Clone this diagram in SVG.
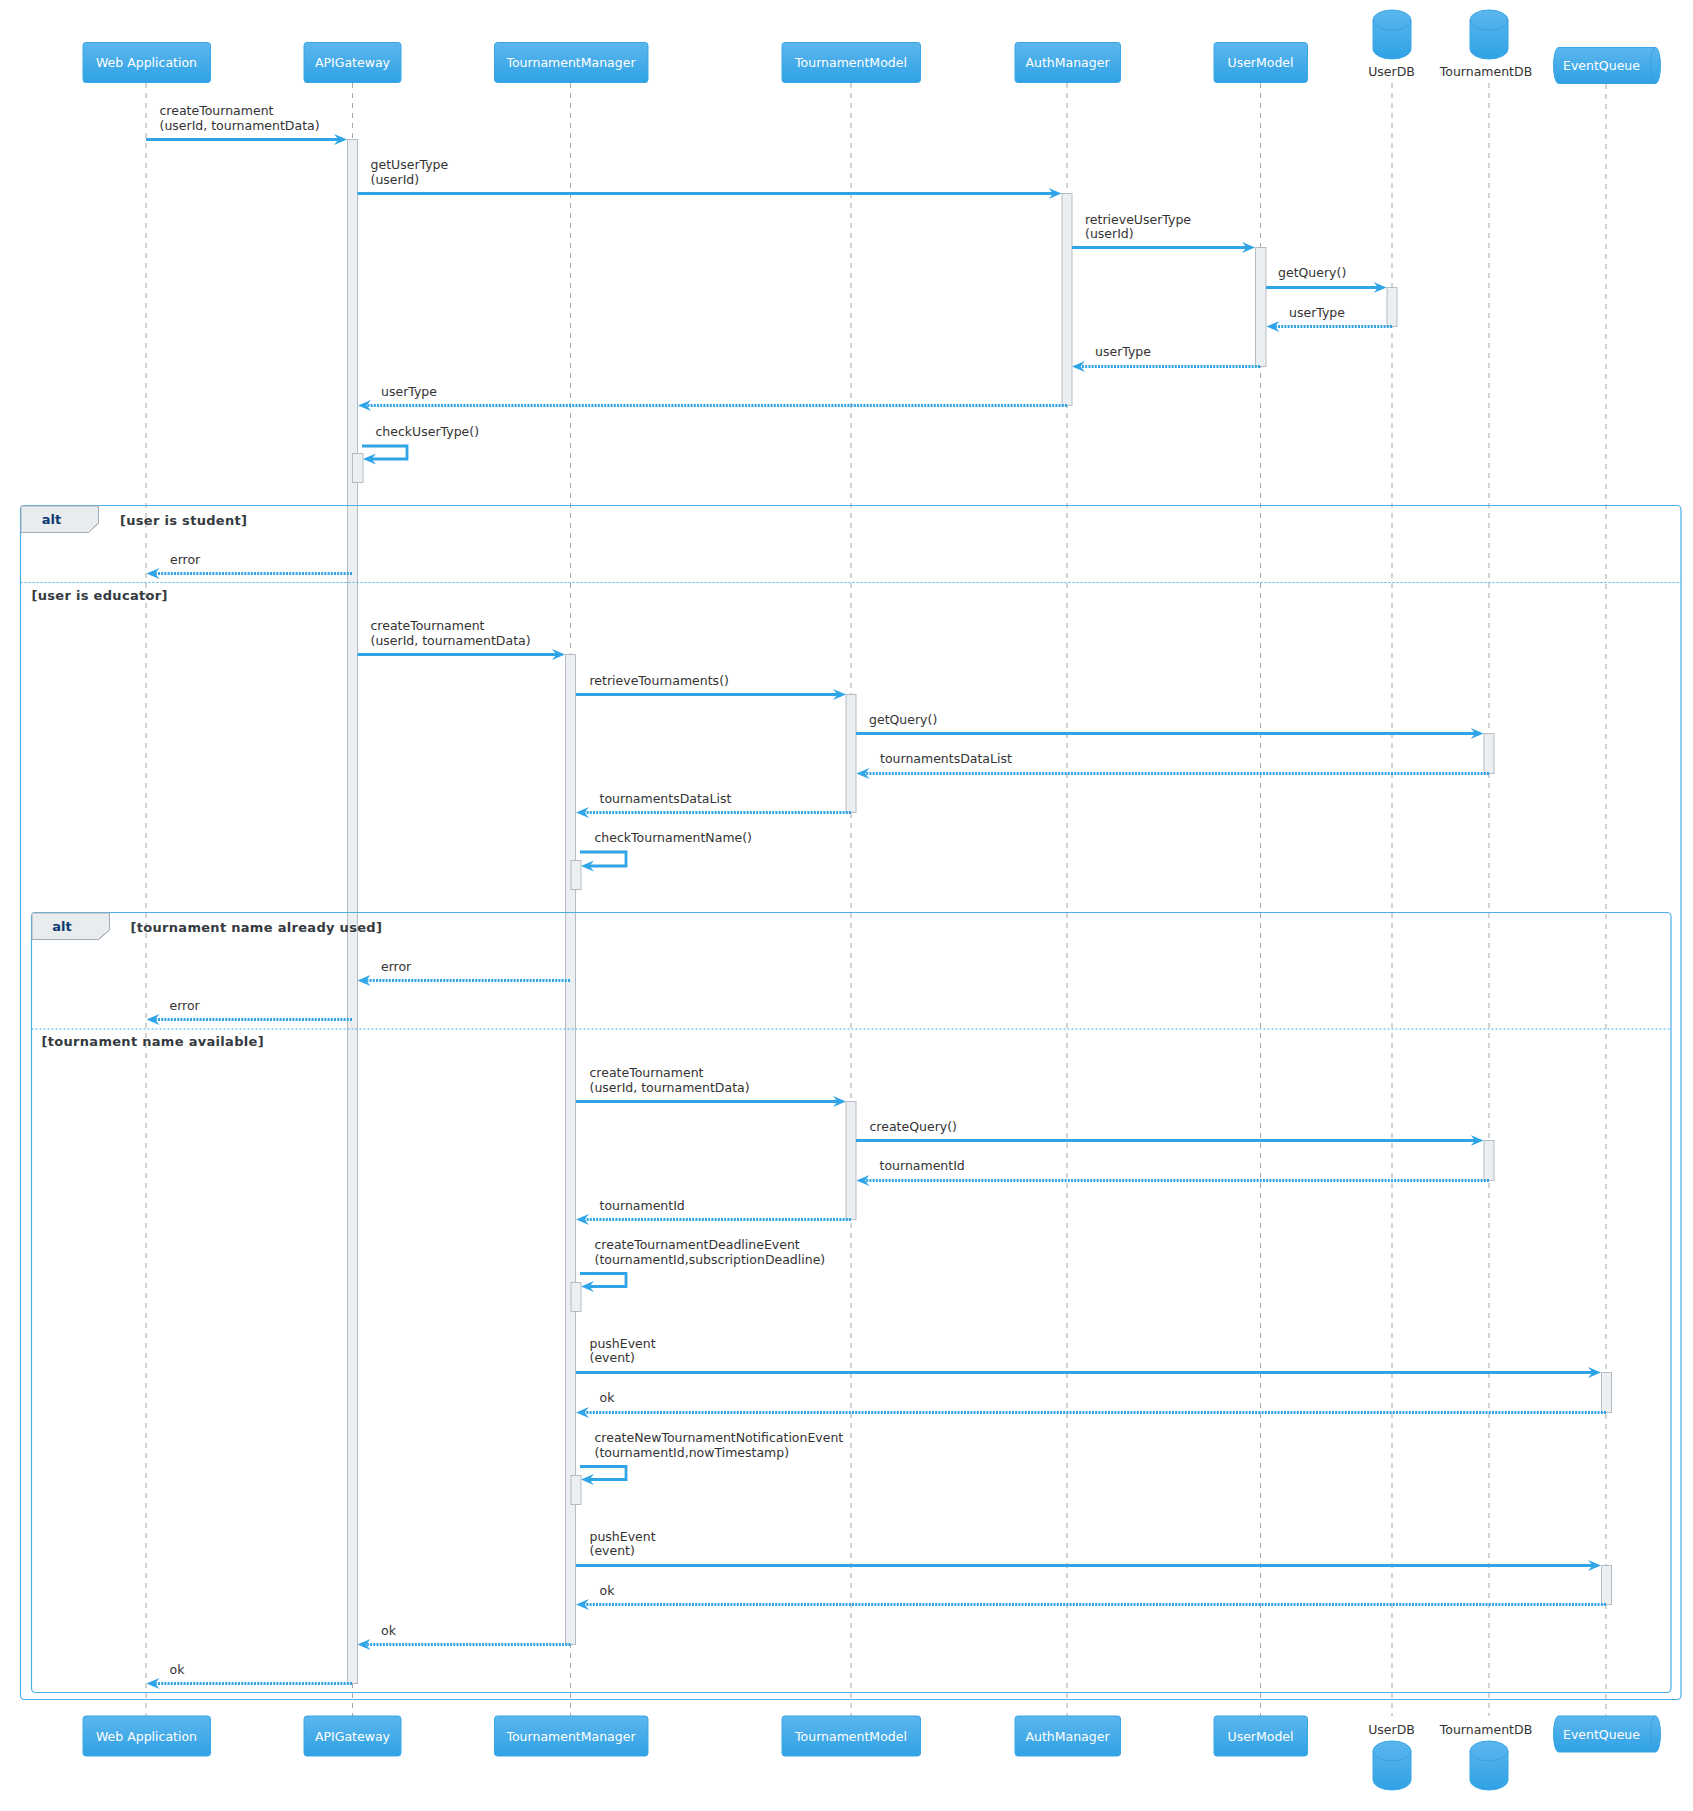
<svg xmlns="http://www.w3.org/2000/svg" width="1693" height="1811" viewBox="0 0 1693 1811">
<defs>
<linearGradient id="bg" x1="0" y1="0" x2="0" y2="1">
<stop offset="0" stop-color="#5cb6ed"/>
<stop offset="1" stop-color="#2fa2e5"/>
</linearGradient>
<marker id="ah" viewBox="0 0 13 11" markerWidth="13" markerHeight="11" refX="9" refY="5.5" orient="auto" markerUnits="userSpaceOnUse">
<path d="M13,5.5 L0,0 L4.5,5.5 L0,11 Z" fill="#2fa4e7"/>
</marker>
<path id="cyl" d="M0,10 A19,10 0 0 1 38,10 V39 A19,10 0 0 1 0,39 Z"/>
</defs>
<style>
text{font-family:"DejaVu Sans","Liberation Sans",sans-serif}
.box{fill:url(#bg);stroke:#3aa6e6;stroke-width:1}
.ptxt{fill:#ffffff;font-size:12.5px;text-anchor:middle}
.dbtxt{fill:#333333;font-size:12.5px;text-anchor:middle}
.arc{fill:none;stroke:#3aa0df;stroke-width:1}
.life{stroke:#a6a6a6;stroke-width:1;stroke-dasharray:5,5;fill:none}
.act{fill:#eceff1;stroke:#b5bcc3;stroke-width:1}
.msg{stroke:#2fa4e7;stroke-width:2.8;fill:none;marker-end:url(#ah)}
.ret{stroke:#2fa4e7;stroke-width:2.8;fill:none;stroke-dasharray:2,1.2;marker-end:url(#ah)}
.mt{fill:#333333;font-size:12.5px}
.frame{fill:none;stroke:#4aaee9;stroke-width:1.2}
.tab{fill:#e9ecef;stroke:#a3acb5;stroke-width:1}
.sep{stroke:#4aaee9;stroke-width:1;stroke-dasharray:2,2}
.alt{fill:#0b3b6f;font-size:13px;font-weight:bold;text-anchor:middle}
.guard{fill:#343a40;font-size:13px;font-weight:bold;letter-spacing:0.3px}
</style>
<rect width="1693" height="1811" fill="#ffffff"/>

<g id="lifelines">
<line class="life" x1="146" y1="83" x2="146" y2="1716"/>
<line class="life" x1="352.5" y1="83" x2="352.5" y2="1716"/>
<line class="life" x1="570.5" y1="83" x2="570.5" y2="1716"/>
<line class="life" x1="851" y1="83" x2="851" y2="1716"/>
<line class="life" x1="1067" y1="83" x2="1067" y2="1716"/>
<line class="life" x1="1260.5" y1="83" x2="1260.5" y2="1716"/>
<line class="life" x1="1392" y1="83" x2="1392" y2="1716"/>
<line class="life" x1="1489" y1="83" x2="1489" y2="1716"/>
<line class="life" x1="1606" y1="84" x2="1606" y2="1716"/>
</g>

<g id="activations">
<rect class="act" x="347.5" y="139.5" width="10" height="1544"/>
<rect class="act" x="352.5" y="453.5" width="10.5" height="29"/>
<rect class="act" x="1062" y="193.5" width="10" height="212"/>
<rect class="act" x="1255.5" y="247.5" width="10.5" height="119"/>
<rect class="act" x="1387" y="287.5" width="10" height="39"/>
<rect class="act" x="565.5" y="654.5" width="10" height="990"/>
<rect class="act" x="846" y="694.5" width="10" height="118"/>
<rect class="act" x="1484" y="733.5" width="10" height="40"/>
<rect class="act" x="571" y="860.5" width="10" height="29"/>
<rect class="act" x="846" y="1101.5" width="10" height="118"/>
<rect class="act" x="1484" y="1140.5" width="10" height="40"/>
<rect class="act" x="571" y="1282.5" width="10" height="29"/>
<rect class="act" x="1601.5" y="1372.5" width="10" height="40"/>
<rect class="act" x="571" y="1475.5" width="10" height="29"/>
<rect class="act" x="1601.5" y="1565.5" width="10" height="39"/>
</g>

<g id="frame-alt-outer">
<rect class="frame" x="20.5" y="505.5" width="1660.5" height="1194" rx="4"/>
<path class="tab" d="M21,532.5 H88.5 L98.5,523 V506 H21 Z"/>
<path d="M20.5,532.5 H88.5 L98.5,523 V505.5" fill="none" stroke="#a3acb5" stroke-width="1"/>
<text class="alt" x="51.5" y="524">alt</text>
<text class="guard" x="120" y="525">[user is student]</text>
<line class="sep" x1="20.5" y1="582.5" x2="1681" y2="582.5"/>
<text class="guard" x="31.5" y="600">[user is educator]</text>
</g>

<g id="frame-alt-inner">
<rect class="frame" x="31.5" y="912.5" width="1639.5" height="780" rx="4"/>
<path class="tab" d="M32,939.5 H98.5 L109.5,930 V913 H32 Z"/>
<path d="M31.5,939.5 H98.5 L109.5,930 V912.5" fill="none" stroke="#a3acb5" stroke-width="1"/>
<text class="alt" x="62" y="931">alt</text>
<text class="guard" x="130.5" y="932">[tournament name already used]</text>
<line class="sep" x1="31.5" y1="1029" x2="1671" y2="1029"/>
<text class="guard" x="41.5" y="1046">[tournament name available]</text>
</g>

<g id="p-webapp">
<rect class="box" x="83" y="42.5" width="127.5" height="40" rx="3"/>
<text class="ptxt" x="146.5" y="67">Web Application</text>
<rect class="box" x="83" y="1716" width="127.5" height="40" rx="3"/>
<text class="ptxt" x="146.5" y="1740.5">Web Application</text>
</g>
<g id="p-apigateway">
<rect class="box" x="304" y="42.5" width="97" height="40" rx="3"/>
<text class="ptxt" x="352.5" y="67">APIGateway</text>
<rect class="box" x="304" y="1716" width="97" height="40" rx="3"/>
<text class="ptxt" x="352.5" y="1740.5">APIGateway</text>
</g>
<g id="p-tournamentmanager">
<rect class="box" x="494.5" y="42.5" width="153.5" height="40" rx="3"/>
<text class="ptxt" x="571" y="67">TournamentManager</text>
<rect class="box" x="494.5" y="1716" width="153.5" height="40" rx="3"/>
<text class="ptxt" x="571" y="1740.5">TournamentManager</text>
</g>
<g id="p-tournamentmodel">
<rect class="box" x="782" y="42.5" width="138.5" height="40" rx="3"/>
<text class="ptxt" x="851" y="67">TournamentModel</text>
<rect class="box" x="782" y="1716" width="138.5" height="40" rx="3"/>
<text class="ptxt" x="851" y="1740.5">TournamentModel</text>
</g>
<g id="p-authmanager">
<rect class="box" x="1015" y="42.5" width="105.5" height="40" rx="3"/>
<text class="ptxt" x="1067.5" y="67">AuthManager</text>
<rect class="box" x="1015" y="1716" width="105.5" height="40" rx="3"/>
<text class="ptxt" x="1067.5" y="1740.5">AuthManager</text>
</g>
<g id="p-usermodel">
<rect class="box" x="1214" y="42.5" width="93.5" height="40" rx="3"/>
<text class="ptxt" x="1260.5" y="67">UserModel</text>
<rect class="box" x="1214" y="1716" width="93.5" height="40" rx="3"/>
<text class="ptxt" x="1260.5" y="1740.5">UserModel</text>
</g>
<g id="p-userdb">
<use href="#cyl" class="box" x="1373" y="10"/>
<path class="arc" d="M1373,20 A19,10 0 0 0 1411,20"/>
<text class="dbtxt" x="1391.5" y="75.5">UserDB</text>
<text class="dbtxt" x="1391.5" y="1733.5">UserDB</text>
<use href="#cyl" class="box" x="1373" y="1741"/>
<path class="arc" d="M1373,1751 A19,10 0 0 0 1411,1751"/>
</g>
<g id="p-tournamentdb">
<use href="#cyl" class="box" x="1470" y="10"/>
<path class="arc" d="M1470,20 A19,10 0 0 0 1508,20"/>
<text class="dbtxt" x="1486" y="75.5">TournamentDB</text>
<text class="dbtxt" x="1486" y="1733.5">TournamentDB</text>
<use href="#cyl" class="box" x="1470" y="1741"/>
<path class="arc" d="M1470,1751 A19,10 0 0 0 1508,1751"/>
</g>
<g id="p-eventqueue">
<path class="box" d="M1558.5,47.5 H1655.5 A5,18 0 0 1 1655.5,83.5 H1558.5 A5,18 0 0 1 1558.5,47.5 Z"/>
<path class="arc" d="M1655.5,47.5 A5,18 0 0 0 1655.5,83.5"/>
<text class="ptxt" x="1601.5" y="70">EventQueue</text>
<path class="box" d="M1558.5,1716 H1655.5 A5,18 0 0 1 1655.5,1752 H1558.5 A5,18 0 0 1 1558.5,1716 Z"/>
<path class="arc" d="M1655.5,1716 A5,18 0 0 0 1655.5,1752"/>
<text class="ptxt" x="1601.5" y="1738.5">EventQueue</text>
</g>

<g id="connectors">
<line class="msg" x1="146" y1="139.5" x2="343" y2="139.5"/>
<line class="msg" x1="357.5" y1="193.5" x2="1057.5" y2="193.5"/>
<line class="msg" x1="1072" y1="247.5" x2="1251" y2="247.5"/>
<line class="msg" x1="1266" y1="287.5" x2="1382.5" y2="287.5"/>
<line class="ret" x1="1392" y1="326.5" x2="1270.5" y2="326.5"/>
<line class="ret" x1="1260" y1="366.5" x2="1076" y2="366.5"/>
<line class="ret" x1="1067" y1="405.5" x2="362" y2="405.5"/>
<path class="msg" d="M362,446 H407 V459 H367"/>
<line class="ret" x1="352" y1="573.5" x2="150.5" y2="573.5"/>
<line class="msg" x1="357.5" y1="654.5" x2="561" y2="654.5"/>
<line class="msg" x1="576" y1="694.5" x2="842" y2="694.5"/>
<line class="msg" x1="856" y1="733.5" x2="1479.5" y2="733.5"/>
<line class="ret" x1="1489" y1="773.5" x2="860.5" y2="773.5"/>
<line class="ret" x1="851" y1="812.5" x2="580" y2="812.5"/>
<path class="msg" d="M580,852 H626 V866 H585"/>
<line class="ret" x1="570" y1="980.5" x2="361.5" y2="980.5"/>
<line class="ret" x1="352" y1="1019.5" x2="150.5" y2="1019.5"/>
<line class="msg" x1="576" y1="1101.5" x2="842" y2="1101.5"/>
<line class="msg" x1="856" y1="1140.5" x2="1479.5" y2="1140.5"/>
<line class="ret" x1="1489" y1="1180.5" x2="860.5" y2="1180.5"/>
<line class="ret" x1="851" y1="1219.5" x2="580" y2="1219.5"/>
<path class="msg" d="M580,1273.5 H626 V1286.5 H585"/>
<line class="msg" x1="576" y1="1372.5" x2="1597" y2="1372.5"/>
<line class="ret" x1="1606" y1="1412.5" x2="580" y2="1412.5"/>
<path class="msg" d="M580,1466.5 H626 V1479.5 H585"/>
<line class="msg" x1="576" y1="1565.5" x2="1597" y2="1565.5"/>
<line class="ret" x1="1606" y1="1604.5" x2="580" y2="1604.5"/>
<line class="ret" x1="570.5" y1="1644.5" x2="361.5" y2="1644.5"/>
<line class="ret" x1="352" y1="1683.5" x2="150.5" y2="1683.5"/>
</g>

<g id="labels">
<text class="mt" x="159.5" y="115">createTournament</text>
<text class="mt" x="159.5" y="129.5">(userId, tournamentData)</text>
<text class="mt" x="370.5" y="169">getUserType</text>
<text class="mt" x="370.5" y="183.5">(userId)</text>
<text class="mt" x="1085" y="223.5">retrieveUserType</text>
<text class="mt" x="1085" y="238">(userId)</text>
<text class="mt" x="1278" y="277">getQuery()</text>
<text class="mt" x="1289" y="317">userType</text>
<text class="mt" x="1095" y="356">userType</text>
<text class="mt" x="381" y="396">userType</text>
<text class="mt" x="375.5" y="435.5">checkUserType()</text>
<text class="mt" x="170" y="563.5">error</text>
<text class="mt" x="370.5" y="630">createTournament</text>
<text class="mt" x="370.5" y="644.5">(userId, tournamentData)</text>
<text class="mt" x="589.5" y="684.5">retrieveTournaments()</text>
<text class="mt" x="869" y="724">getQuery()</text>
<text class="mt" x="880" y="763">tournamentsDataList</text>
<text class="mt" x="599.5" y="803">tournamentsDataList</text>
<text class="mt" x="594.5" y="842">checkTournamentName()</text>
<text class="mt" x="381" y="970.5">error</text>
<text class="mt" x="169.5" y="1010">error</text>
<text class="mt" x="589.5" y="1077">createTournament</text>
<text class="mt" x="589.5" y="1091.5">(userId, tournamentData)</text>
<text class="mt" x="869.5" y="1131">createQuery()</text>
<text class="mt" x="879.5" y="1170">tournamentId</text>
<text class="mt" x="599.5" y="1209.5">tournamentId</text>
<text class="mt" x="594.5" y="1249">createTournamentDeadlineEvent</text>
<text class="mt" x="594.5" y="1264">(tournamentId,subscriptionDeadline)</text>
<text class="mt" x="589.5" y="1347.5">pushEvent</text>
<text class="mt" x="589.5" y="1362">(event)</text>
<text class="mt" x="599.5" y="1402">ok</text>
<text class="mt" x="594.5" y="1442">createNewTournamentNotificationEvent</text>
<text class="mt" x="594.5" y="1457">(tournamentId,nowTimestamp)</text>
<text class="mt" x="589.5" y="1540.5">pushEvent</text>
<text class="mt" x="589.5" y="1555">(event)</text>
<text class="mt" x="599.5" y="1595">ok</text>
<text class="mt" x="381" y="1634.5">ok</text>
<text class="mt" x="169.5" y="1674">ok</text>
</g>
</svg>
